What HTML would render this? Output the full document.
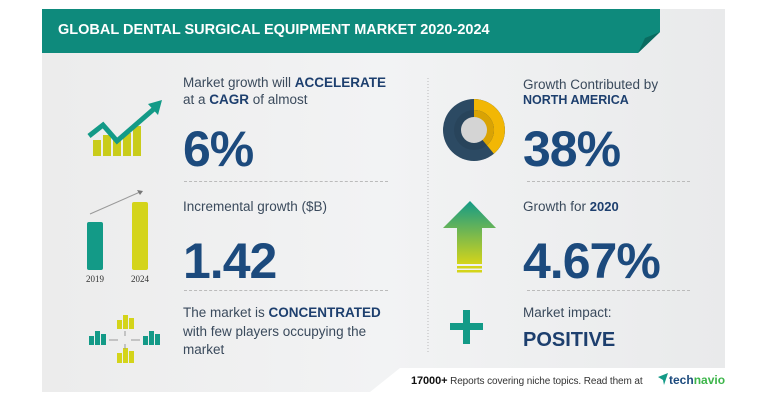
<!DOCTYPE html>
<html><head><meta charset="utf-8"><style>
body{margin:0;width:768px;height:401px;background:#fff;position:relative;overflow:hidden;font-family:"Liberation Sans",sans-serif;}
.card{position:absolute;left:42px;top:9px;width:683px;height:383px;background:linear-gradient(90deg,#ececec,#f2f3f4 50%,#e9eaeb);}
.t{position:absolute;color:#3a4a5c;font-size:13.5px;white-space:nowrap;}
.b{font-weight:bold;color:#1d3f6e;}
.big{position:absolute;color:#1c4a7d;font-weight:bold;font-size:50px;line-height:1;white-space:nowrap;letter-spacing:-1px;}
.dash{position:absolute;height:0;border-top:1px dashed #bbb;}
</style></head><body>
<div class="card"></div>
<svg style="position:absolute;left:0;top:0" width="768" height="401">
<polygon points="42,9 660,9 660,32 638,53 42,53" fill="#0e8a7c"/>
<polygon points="660,32 638,53 645,38" fill="#0a6b60"/>
<polygon points="400,368 725,368 725,401 370,401 370,392" fill="#fff"/>
<line x1="428" y1="78" x2="428" y2="352" stroke="#bbb" stroke-dasharray="1,2"/>
<rect x="93" y="140" width="8" height="16" fill="#c9cc1b"/>
<rect x="103" y="135" width="8" height="21" fill="#c9cc1b"/>
<rect x="113" y="140" width="8" height="16" fill="#c9cc1b"/>
<rect x="123" y="133" width="8" height="23" fill="#c9cc1b"/>
<rect x="133" y="126" width="8" height="30" fill="#c9cc1b"/>
<polyline points="89,136 103,125 117,141 155,108" fill="none" stroke="#139a87" stroke-width="5"/>
<polygon points="162,100 148,104 158,115" fill="#139a87"/>
<line x1="90" y1="214" x2="140" y2="192" stroke="#999" stroke-width="1"/>
<polygon points="143,191 137,190 140,195" fill="#777"/>
<rect x="87" y="222" width="16" height="48" rx="2" fill="#139a87"/>
<rect x="132" y="202" width="16" height="68" rx="2" fill="#d4d41a"/>
<text x="95" y="282" font-size="9" fill="#333" text-anchor="middle" font-family="Liberation Serif">2019</text>
<text x="140" y="282" font-size="9" fill="#333" text-anchor="middle" font-family="Liberation Serif">2024</text>
<g fill="#d4d41a"><rect x="117" y="320" width="5" height="9"/><rect x="123" y="315" width="5" height="14"/><rect x="129" y="318" width="5" height="11"/>
<rect x="117" y="353" width="5" height="10"/><rect x="123" y="348" width="5" height="15"/><rect x="129" y="351" width="5" height="12"/></g>
<g fill="#139a87"><rect x="89" y="336" width="5" height="9"/><rect x="95" y="331" width="5" height="14"/><rect x="101" y="334" width="5" height="11"/>
<rect x="143" y="336" width="5" height="9"/><rect x="149" y="331" width="5" height="14"/><rect x="155" y="334" width="5" height="11"/></g>
<g stroke="#999" stroke-width="1"><line x1="109" y1="340" x2="118" y2="340"/><line x1="131" y1="340" x2="140" y2="340"/><line x1="125" y1="331" x2="125" y2="336"/><line x1="125" y1="344" x2="125" y2="349"/></g>
<circle cx="474" cy="130" r="31" fill="#2c4a63"/>
<path d="M474,99 A31,31 0 0 1 493.9,153.7 L486.9,145.3 A20,20 0 0 0 474,110Z" fill="#f2b705"/>
<circle cx="474" cy="130" r="20" fill="#264157" opacity="0.6"/>
<path d="M474,110 A20,20 0 0 1 486.9,145.3 L474,130Z" fill="#d9a304"/>
<circle cx="474" cy="130" r="13" fill="#d4d4d4"/>
<defs><linearGradient id="g" x1="0" y1="0" x2="0" y2="1"><stop offset="0" stop-color="#139a87"/><stop offset="1" stop-color="#d4d41a"/></linearGradient></defs>
<polygon points="470,201 496,228 482,228 482,264 457,264 457,228 443,228" fill="url(#g)"/>
<rect x="457" y="266" width="25" height="2.5" fill="#d4d41a"/>
<rect x="457" y="270" width="25" height="2.5" fill="#d4d41a"/>
<rect x="463" y="310" width="7" height="34" fill="#139a87"/>
<rect x="450" y="323" width="33" height="7" fill="#139a87"/>
<polygon points="658,377 668,373 664,385 663,380" fill="#139a87"/>
</svg>
<div style="position:absolute;left:58px;top:22px;color:#fff;font-weight:bold;font-size:14.5px;white-space:nowrap;">GLOBAL DENTAL SURGICAL EQUIPMENT MARKET 2020-2024</div>

<div class="t" style="left:183px;top:75px">Market growth will <span class="b">ACCELERATE</span></div>
<div class="t" style="left:183px;top:92px">at a <span class="b">CAGR</span> of almost</div>
<div class="big" style="left:183px;top:124px">6%</div>
<div class="dash" style="left:184px;top:181px;width:204px"></div>
<div class="t" style="left:183px;top:199px">Incremental growth ($B)</div>
<div class="big" style="left:183px;top:236px">1.42</div>
<div class="dash" style="left:184px;top:290px;width:204px"></div>
<div class="t" style="left:183px;top:305px">The market is <span class="b">CONCENTRATED</span></div>
<div class="t" style="left:183px;top:324px">with few players occupying the</div>
<div class="t" style="left:183px;top:342px">market</div>

<div class="t" style="left:523px;top:77px">Growth Contributed by</div>
<div class="t b" style="left:523px;top:93px;font-size:12.5px">NORTH AMERICA</div>
<div class="big" style="left:523px;top:124px">38%</div>
<div class="dash" style="left:527px;top:181px;width:163px"></div>
<div class="t" style="left:523px;top:199px">Growth for <span class="b" style="font-size:13px">2020</span></div>
<div class="big" style="left:523px;top:236px">4.67%</div>
<div class="dash" style="left:527px;top:290px;width:163px"></div>
<div class="t" style="left:523px;top:305px">Market impact:</div>
<div class="t b" style="left:523px;top:329px;font-size:20px">POSITIVE</div>

<div style="position:absolute;left:411px;top:375px;font-size:10px;color:#333;white-space:nowrap;letter-spacing:-0.1px"><b style="color:#111;font-size:11px">17000+</b> Reports covering niche topics. Read them at</div>
<div style="position:absolute;left:669px;top:373px;font-size:12px;font-weight:bold;white-space:nowrap;"><span style="color:#1c4a7d">tech</span><span style="color:#3cb54a">navio</span></div>
</body></html>
